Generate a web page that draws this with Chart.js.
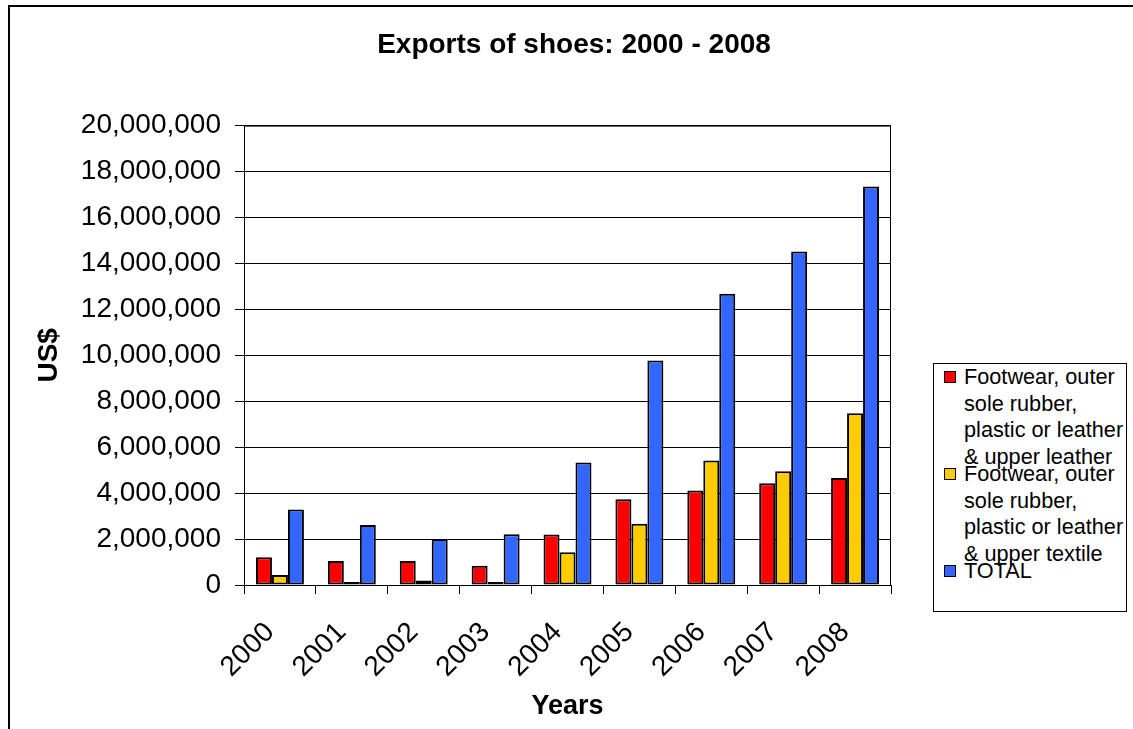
<!DOCTYPE html>
<html lang="en">
<head>
  <meta charset="UTF-8">
  <title>Exports of shoes: 2000 - 2008</title>
  <script src="https://cdn.jsdelivr.net/npm/chart.js"></script>
  <style>
    body {
      margin: 0;
      width: 1133px;
      height: 729px;
      overflow: hidden;
      background: #fff;
      font-family: 'Liberation Sans', Arial, sans-serif;
    }
    /* outer frame of the chart object */
    .frame {
      position: absolute;
      left: 8px;
      top: 5px;
      width: 1140px;
      height: 760px;
      border: 2px solid #000;
    }
    canvas {
      position: absolute;
      left: 0;
      top: 0;
    }
    /* legend box */
    #legend {
      position: absolute;
      left: 933px;
      top: 363px;
      width: 192px;
      height: 247px;
      border: 1px solid #000;
      background: #fff;
      font-size: 21.7px;
      line-height: 26.7px;
      color: #000;
    }
    .legend-item {
      position: relative;
      padding-left: 30px;
      width: 163px;
      margin-bottom: -10px;
    }
    .legend-item:first-child {
      margin-top: 0px;
    }
    .swatch {
      position: absolute;
      left: 10px;
      top: 7px;
      width: 10px;
      height: 10px;
      border: 1px solid #000;
    }
  </style>
</head>
<body>
  <div class="frame"></div>
  <canvas id="chart" width="1133" height="729"></canvas>
  <div id="legend"></div>

  <script>
    const years = ['2000', '2001', '2002', '2003', '2004', '2005', '2006', '2007', '2008'];

    const leatherLabel = 'Footwear, outer sole rubber, plastic or leather & upper leather';
    const textileLabel = 'Footwear, outer sole rubber, plastic or leather & upper textile';
    const totalLabel = 'TOTAL';

    const upperLeather = [1210000, 1050000, 1050000, 840000, 2200000, 3730000, 4110000, 4430000, 4660000];
    const upperTextile = [440000, 130000, 200000, 130000, 1430000, 2670000, 5420000, 4950000, 7480000];
    const total = [3290000, 2610000, 2000000, 2210000, 5330000, 9770000, 12680000, 14520000, 17350000];

    const yTicks = [0, 2000000, 4000000, 6000000, 8000000, 10000000, 12000000, 14000000, 16000000, 18000000, 20000000];

    const fontFamily = "'Liberation Sans', Arial, sans-serif";
    Chart.defaults.font.family = fontFamily;
    Chart.defaults.color = '#000';

    // draws the plot area frame (right edge and top)
    const plotBorder = {
      id: 'plotBorder',
      afterDatasetsDraw(chart) {
        const a = chart.chartArea;
        const ctx = chart.ctx;
        ctx.save();
        ctx.strokeStyle = '#000';
        ctx.lineWidth = 1;
        ctx.strokeRect(a.left + 0.5, a.top + 0.5, a.right - a.left - 1, a.bottom - a.top);
        ctx.restore();
      }
    };

    const chart = new Chart(document.getElementById('chart'), {
      type: 'bar',
      data: {
        labels: years,
        datasets: [
          { label: leatherLabel, data: upperLeather, backgroundColor: '#FF0000' },
          { label: textileLabel, data: upperTextile, backgroundColor: '#FFCC00' },
          { label: totalLabel, data: total, backgroundColor: '#3366FF' }
        ].map(d => Object.assign(d, {
          borderColor: '#000',
          borderWidth: 2,
          borderSkipped: false,
          barPercentage: 1,
          categoryPercentage: 0.667
        }))
      },
      options: {
        responsive: false,
        animation: false,
        layout: { padding: { left: 15, right: 0, top: 5, bottom: 0 } },
        plugins: {
          legend: { display: false },
          tooltip: { enabled: false },
          title: {
            display: true,
            text: 'Exports of shoes: 2000 - 2008',
            font: { size: 28, weight: 'bold' },
            padding: { top: 23, bottom: 64 }
          }
        },
        scales: {
          x: {
            grid: { drawOnChartArea: false, tickLength: 9, color: '#000' },
            border: { color: '#000', width: 1 },
            ticks: {
              font: { size: 28 },
              minRotation: 45,
              maxRotation: 45,
              padding: 22,
              labelOffset: -10
            },
            title: {
              display: true,
              text: 'Years',
              font: { size: 27, weight: 'bold' },
              padding: { top: 0, bottom: 6 }
            },
            afterFit(scale) { scale.height = 144; }
          },
          y: {
            min: 0,
            max: 20000000,
            afterBuildTicks(scale) { scale.ticks = yTicks.map(v => ({ value: v })); },
            grid: { color: '#000', tickLength: 9, lineWidth: 1 },
            border: { color: '#000', width: 1 },
            ticks: {
              font: { size: 28 },
              padding: 14,
              callback: v => v.toLocaleString('en-US')
            },
            title: {
              display: true,
              text: 'US$',
              font: { size: 28, weight: 'bold' },
              padding: { top: 17, bottom: 0 }
            },
            afterFit(scale) { scale.width = 229; }
          },
          // empty space on the right where the legend box sits
          spacer: {
            type: 'linear',
            position: 'right',
            display: true,
            grid: { display: false },
            border: { display: false },
            ticks: { display: false },
            afterFit(scale) { scale.width = 242; }
          }
        }
      },
      plugins: [plotBorder]
    });

    // legend built from the datasets, lets long labels wrap like the original
    const legend = document.getElementById('legend');
    chart.data.datasets.forEach(ds => {
      const item = document.createElement('div');
      item.className = 'legend-item';
      const sw = document.createElement('span');
      sw.className = 'swatch';
      sw.style.background = ds.backgroundColor;
      item.appendChild(sw);
      item.appendChild(document.createTextNode(ds.label));
      legend.appendChild(item);
    });
  </script>
</body>
</html>
